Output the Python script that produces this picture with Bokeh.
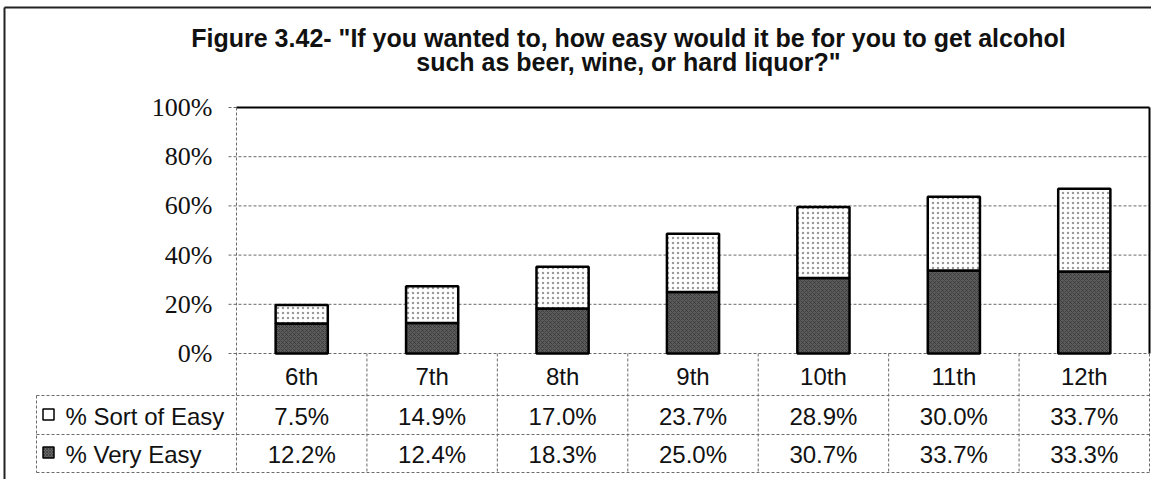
from bokeh.plotting import figure
from bokeh.models import Range1d, ColumnDataSource
from bokeh.core.properties import value
from bokeh.embed import file_html
from bokeh.resources import INLINE

# ---------------- data ----------------
grades = ["6th", "7th", "8th", "9th", "10th", "11th", "12th"]
sort_of_easy = [7.5, 14.9, 17.0, 23.7, 28.9, 30.0, 33.7]
very_easy = [12.2, 12.4, 18.3, 25.0, 30.7, 33.7, 33.3]
y_ticks = [0, 20, 40, 60, 80, 100]
y_tick_labels = ["0%", "20%", "40%", "60%", "80%", "100%"]
series_names = ["% Sort of Easy", "% Very Easy"]
title_lines = ['Figure 3.42- "If you wanted to, how easy would it be for you to get alcohol',
               'such as beer, wine, or hard liquor?"']

# ---------------- layout (canvas pixels) ----------------
W, H = 1151, 479
PL, PR = 236, 1149      # plot area left / right
PT, PB = 107, 353       # 100% / 0% lines
N = len(grades)
cw = (PR - PL) / N
ppu = (PB - PT) / 100.0


def X(px):
    return (px - PL) / cw


def Y(px):
    return (PB - px) / ppu


R1, R2, R3 = 395, 434, 472   # table row boundaries
LEG_L = 36                   # legend column left

SANS = value("Liberation Sans")
SERIF = value("Liberation Serif")

p = figure(width=W, height=H, x_range=Range1d(X(0), X(W)), y_range=Range1d(Y(H), Y(0)),
           output_backend="svg", toolbar_location=None, min_border=0,
           x_axis_type=None, y_axis_type=None)
p.grid.visible = False
p.outline_line_color = None
p.background_fill_color = "white"
p.border_fill_color = "white"

GRID = "#6a6a6a"
DASH = "3 2"

# outer border (left & top)
p.segment(x0=[X(4), X(4)], y0=[Y(7), Y(7)], x1=[X(4), X(W)], y1=[Y(H), Y(7)],
          line_color="#222222", line_width=2)

# gridlines plus tick stubs
gx0 = [X(PL - 8)] * len(y_ticks)
gx1 = [X(PR) if t != 100 else X(PL) for t in y_ticks]
p.segment(x0=gx0, y0=y_ticks, x1=gx1, y1=y_ticks, line_color=GRID, line_width=1, line_dash=DASH)

# plot area borders
p.segment(x0=[0], y0=[100], x1=[N], y1=[100], line_color="black", line_width=2)
p.segment(x0=[N], y0=[100], x1=[N], y1=[0], line_color="black", line_width=2)
p.segment(x0=[0], y0=[100], x1=[0], y1=[Y(R3)], line_color=GRID, line_width=1, line_dash=DASH)

# data table lines
xs_cols = list(range(1, N + 1))
p.segment(x0=xs_cols, y0=[0] * N, x1=xs_cols, y1=[Y(R3)] * N, line_color=GRID, line_width=1, line_dash=DASH)
p.segment(x0=[X(LEG_L)], y0=[Y(R1)], x1=[X(LEG_L)], y1=[Y(R3)], line_color=GRID, line_width=1, line_dash=DASH)
p.segment(x0=[X(LEG_L)] * 3, y0=[Y(R1), Y(R2), Y(R3)], x1=[N] * 3, y1=[Y(R1), Y(R2), Y(R3)],
          line_color=GRID, line_width=1, line_dash=DASH)

# bars
xc = [i + 0.5 for i in range(N)]
tops = [a + b for a, b in zip(very_easy, sort_of_easy)]
src = ColumnDataSource(dict(x=xc, very=very_easy, top=tops, grade=grades))
p.vbar(x="x", bottom=0, top="very", width=0.4, source=src,
       fill_color="#5c5c5c", line_color="black", line_width=2.5,
       hatch_pattern="x", hatch_color="#2c2c2c", hatch_scale=4, hatch_weight=0.6)
p.vbar(x="x", bottom="very", top="top", width=0.4, source=src,
       fill_color="white", line_color="black", line_width=2.5,
       hatch_pattern="dot", hatch_color="#9a9a9a", hatch_scale=5, hatch_weight=1)

# y tick labels
p.text(x=[X(212)] * len(y_ticks), y=y_ticks, text=y_tick_labels, text_font=SERIF,
       text_font_size="26px", text_align="right", text_baseline="middle", text_color="#111111")

# category row
p.text(x=xc, y=[Y(376)] * N, text=grades, text_font=SANS, text_font_size="24px",
       text_align="center", text_baseline="middle", text_color="#111111")

# value rows
fmt = lambda v: f"{v:.1f}%"
p.text(x=xc, y=[Y(416)] * N, text=[fmt(v) for v in sort_of_easy], text_font=SANS,
       text_font_size="24px", text_align="center", text_baseline="middle", text_color="#111111")
p.text(x=xc, y=[Y(454)] * N, text=[fmt(v) for v in very_easy], text_font=SANS,
       text_font_size="24px", text_align="center", text_baseline="middle", text_color="#111111")

# legend keys + names
p.scatter(x=[X(48)], y=[Y(414)], marker="square", size=11, fill_color="white", line_color="black", line_width=1.5)
p.scatter(x=[X(48)], y=[Y(452)], marker="square", size=11, fill_color="#666666", line_color="black", line_width=1.5,
          hatch_pattern="x", hatch_color="#333333", hatch_scale=3, hatch_weight=0.6)
p.text(x=[X(65)] * 2, y=[Y(416), Y(454)], text=series_names, text_font=SANS, text_font_size="24px",
       text_align="left", text_baseline="middle", text_color="#111111")

# title
p.text(x=[X(628)] * 2, y=[Y(37), Y(61)], text=title_lines, text_font=SANS, text_font_size="25px",
       text_font_style="bold", text_align="center", text_baseline="alphabetic", text_color="#111111")

open("out.html", "w").write(file_html(p, INLINE))
